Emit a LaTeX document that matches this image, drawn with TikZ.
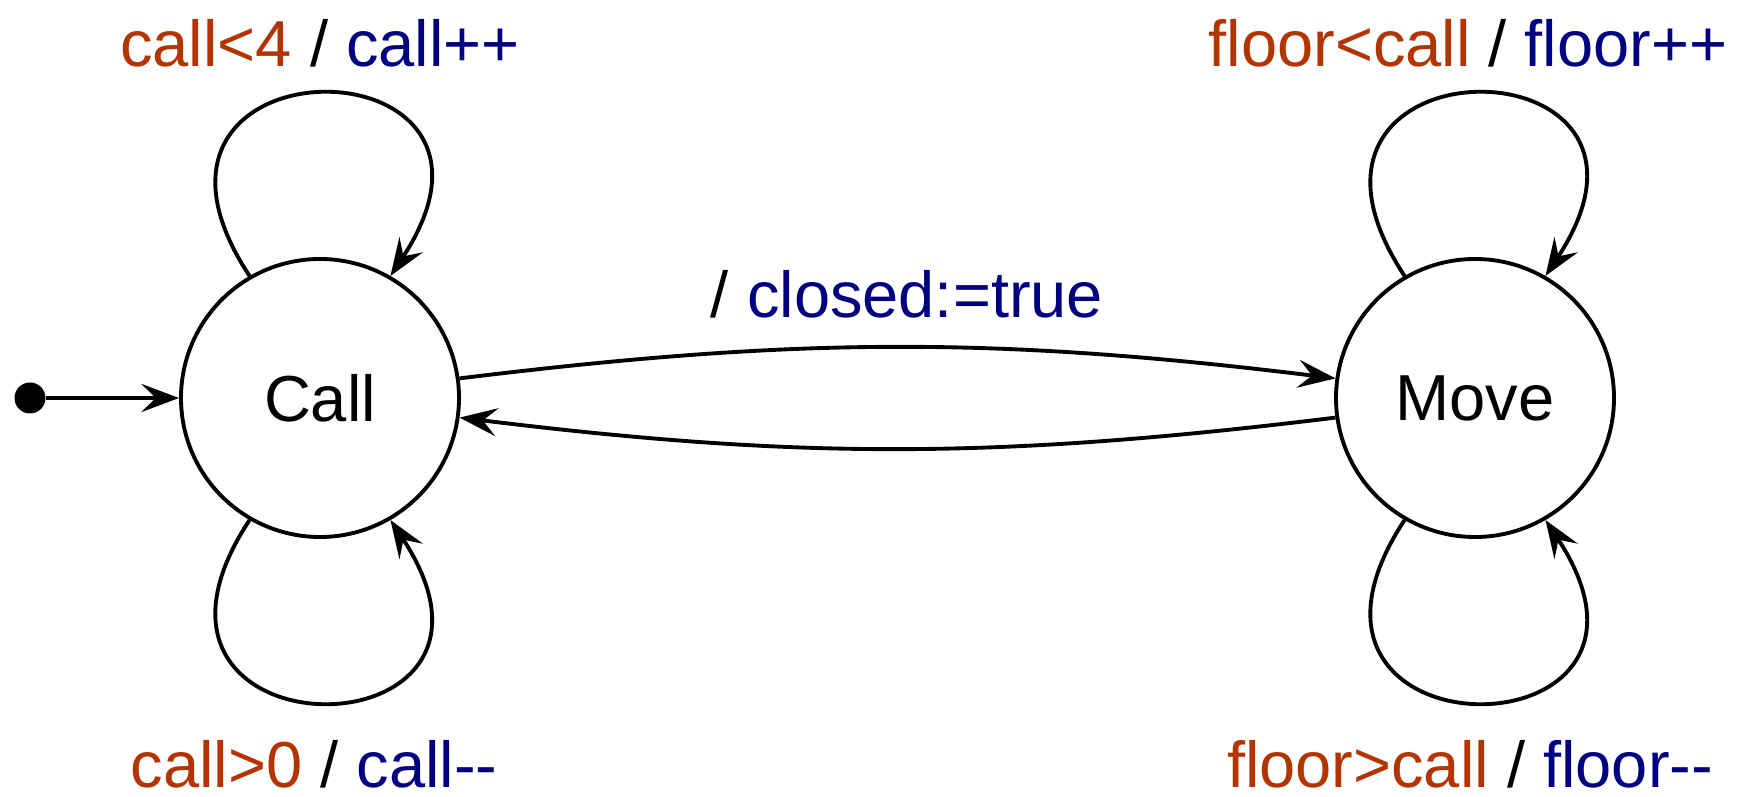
\documentclass[tikz,border=0pt]{standalone}
\usepackage{fontspec}
\setmainfont{Liberation Sans}
\usetikzlibrary{arrows.meta, positioning}
\definecolor{guardred}{RGB}{180, 52, 0}
\definecolor{actionblue}{RGB}{0, 0, 128}

\newcommand{\guard}[1]{\textcolor{guardred}{#1}}
\newcommand{\action}[1]{\textcolor{actionblue}{#1}}

\begin{document}
\begin{tikzpicture}[
        font=\fontsize{37}{42}\selectfont,
        state/.style={circle, draw, line width=2.2pt, minimum size=5.56cm, inner sep=0pt},
        initdot/.style={circle, fill, minimum size=0.62cm, inner sep=0pt},
        trans/.style={line width=2.2pt, -{Stealth[length=0.75cm, width=0.56cm, inset=0.28cm]}},
        lbl/.style={inner sep=0pt}
    ]
        \useasboundingbox (0,0) rectangle (35.2,15.94);

        \node[state] (call) at (6.4,7.98) {Call};
        \node[state] (move) at (29.5,7.98) {Move};
        \node[initdot] (init) at (0.6,7.98) {};

        \draw[trans] (init) -- (call);

        % self loops on both states
        \draw[trans] (call.120) .. controls +(-3.2,4.85) and +(3.2,4.85) .. (call.60);
        \draw[trans] (call.240) .. controls +(-3.2,-4.85) and +(3.2,-4.85) .. (call.300);
        \draw[trans] (move.120) .. controls +(-3.2,4.85) and +(3.2,4.85) .. (move.60);
        \draw[trans] (move.240) .. controls +(-3.2,-4.85) and +(3.2,-4.85) .. (move.300);

        % transitions between the states
        \draw[trans] (call.8) to[bend left=7] (move.172);
        \draw[trans] (move.188) to[bend left=7] (call.-8);

        \node[lbl] (callup) at (6.4,15.08) {\guard{call<4} / \action{call++}};
        \node[lbl] (calldown) at (6.28,0.66) {\guard{call>0} / \action{call-{}-}};
        \node[lbl] (moveup) at (29.36,15.08) {\guard{floor<call} / \action{floor++}};
        \node[lbl] (movedown) at (29.4,0.66) {\guard{floor>call} / \action{floor-{}-}};
        \node[lbl] (close) at (18.14,10.06) {/ \action{closed:=true}};
    \end{tikzpicture}
\end{document}
